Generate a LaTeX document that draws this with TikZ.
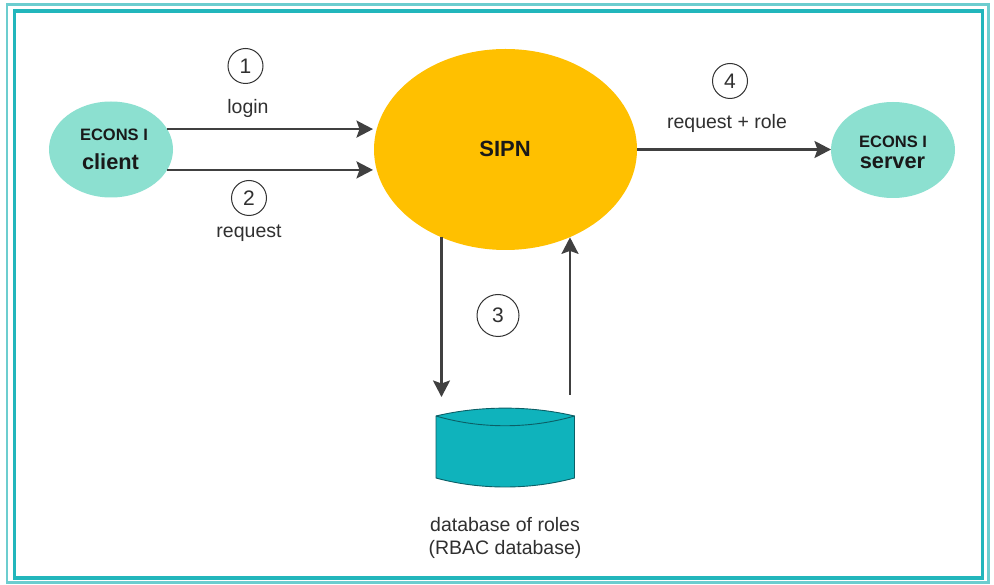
\documentclass[tikz,border=0pt]{standalone}
\usepackage{fontspec}
\setmainfont{Liberation Sans}
\usetikzlibrary{shapes.geometric,arrows.meta}
\definecolor{frameTeal}{HTML}{22B6BC}
\definecolor{frameLight}{HTML}{6CCDCF}
\definecolor{mintFill}{HTML}{8CE0D0}
\definecolor{sipnFill}{HTML}{FFC000}
\definecolor{dbFill}{HTML}{0FB3BC}
\definecolor{dbLine}{HTML}{0B5F66}
\definecolor{arrowGrey}{HTML}{404040}
\definecolor{labelGrey}{HTML}{303030}
\tikzset{
  x=1pt,y=-1pt,
  blob/.style={ellipse,inner sep=0pt,outer sep=0pt,minimum width=#1,draw=none},
  conn/.style={draw=arrowGrey,line width=2.4pt,-{Stealth[length=16.5pt,width=17pt,inset=3pt]}},
  lbl/.style={font=\fontsize{19.5}{23}\selectfont,text=labelGrey,inner sep=0pt,align=center},
  num/.style={circle,draw=black!80,line width=1pt,fill=white,inner sep=0pt,font=\fontsize{21}{24}\selectfont,text=labelGrey},
  headA/.style={font=\bfseries\fontsize{16.5}{18}\selectfont,text=black!90,inner sep=0pt},
  headB/.style={font=\bfseries\fontsize{21.8}{24}\selectfont,text=black!90,inner sep=0pt},
}
\begin{document}
\begin{tikzpicture}
\useasboundingbox (0,0) rectangle (994,585);
\fill[white] (0,0) rectangle (994,585);
% frame
\draw[frameLight,line width=2.5pt] (7,4.5) rectangle (988.5,582.5);
\draw[frameTeal,line width=3.5pt] (14.5,11) rectangle (982.5,578);
% ellipses
\node[blob=124pt,minimum height=96pt,fill=mintFill] (client) at (111,149.5) {};
\node[blob=124pt,minimum height=96pt,fill=mintFill] (server) at (893,150) {};
\node[blob=263pt,minimum height=201pt,fill=sipnFill] (sipn) at (505.5,149.5) {};
\node[headA] (clientA) at (114,134.5) {ECONS I};
\node[headB] (clientB) at (110.5,162) {client};
\node[headA] (serverA) at (893,141.5) {ECONS I};
\node[headB] (serverB) at (892.5,162.5) {server};
\node[font=\bfseries\fontsize{22}{24}\selectfont,text=black!90,inner sep=0pt] (sipnT) at (505,149) {SIPN};
% database
\filldraw[fill=dbFill,draw=dbLine,line width=0.9pt]
  (436,416) .. controls (480,405.5) and (530,405.5) .. (574.5,416)
  -- (574.5,478) .. controls (530,490) and (480,490) .. (436,478) -- cycle;
\draw[dbLine,line width=0.9pt] (436,416) .. controls (480,429) and (530,429) .. (574.5,416);
\node[lbl] (dbT) at (505,537.5) {database of roles\\(RBAC database)};
\coordinate (dbIn) at (441.5,397);
\coordinate (dbOut) at (570,395);
% connectors
\draw[conn,shorten >=1pt] (client.20.08) -- (sipn.west |- client.20.08);
\draw[conn,shorten >=1pt] (client.-20.08) -- (sipn.west |- client.-20.08);
\draw[conn] (sipn.east) -- (server.west |- sipn.east);
\draw[conn] (dbIn |- sipn.233.9) -- (dbIn);
\draw[conn] (dbOut) -- (dbOut |- sipn.306.4);
% numbers and labels
\node[num,minimum size=35pt] (n1) at (245.5,66) {1};
\node[num,minimum size=35pt] (n2) at (249,198) {2};
\node[num,minimum size=42pt] (n3) at (498,315.5) {3};
\node[num,minimum size=35pt] (n4) at (730,81) {4};
\node[lbl] (login) at (248,108.5) {login};
\node[lbl] (req) at (249,233.5) {request};
\node[lbl] (reqrole) at (727,123) {request + role};
\end{tikzpicture}
\end{document}
